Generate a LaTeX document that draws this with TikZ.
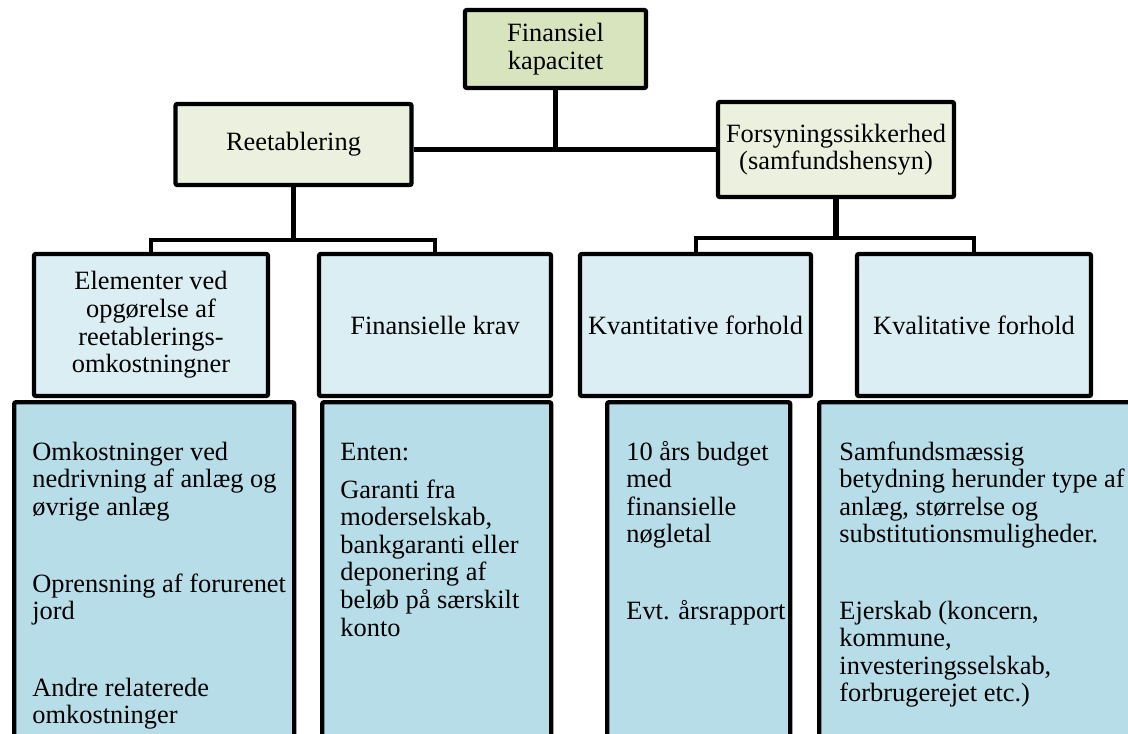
\documentclass[tikz,border=0pt]{standalone}
\usepackage{fontspec}
\setmainfont{Liberation Serif}
\definecolor{topgreen}{HTML}{D7E4BD}
\definecolor{palegreen}{HTML}{EBF1DE}
\definecolor{paleblue}{HTML}{DBEEF4}
\definecolor{midblue}{HTML}{B7DDE8}
\newcommand{\diagfont}{\fontsize{13.2pt}{13.8pt}\selectfont}
\newcommand{\txtlines}[1]{\begin{tabular}[t]{@{}l@{}}#1\end{tabular}}
\tikzset{
  box/.style={draw, line width=2.2pt, rounded corners=1pt, align=center,
    inner sep=0pt, font=\diagfont},
  headbox/.style={box, fill=palegreen, minimum width=118pt},
  subbox/.style={box, fill=paleblue, minimum height=71pt},
  contentbox/.style={draw, line width=2.2pt, rounded corners=1pt, fill=midblue,
    anchor=north west, minimum height=180pt, inner sep=0pt},
  trunk/.style={line width=2.8pt},
  bar/.style={line width=2pt},
  txt/.style={anchor=base west, inner sep=0pt, font=\diagfont}
}
\begin{document}
\begin{tikzpicture}[x=0.5pt, y=-0.5pt]
  \clip (0,0) rectangle (1128,733);

  % top level
  \node[box, fill=topgreen, minimum width=90.5pt, minimum height=39pt] (top) at (555.5,49) {Finansiel\\kapacitet};
  \node[headbox, minimum height=40.5pt] (reet) at (293.5,144.5) {Reetablering};
  \node[headbox, minimum height=47.5pt] (fors) at (836,149.5) {Forsyningssikkerhed\\(samfundshensyn)};

  \coordinate (lbar) at (0,240);
  \coordinate (rbar) at (0,238);

  % second level
  \node[subbox, minimum width=117pt] (elem) at (151,325) {Elementer ved\\opgørelse af\\reetablerings-\\omkostningner};
  \node[subbox, minimum width=116pt] (fkrav) at (435,325) {Finansielle krav};
  \node[subbox, minimum width=115.5pt] (kvant) at (695.5,325) {Kvantitative forhold};
  \node[subbox, minimum width=117pt] (kval) at (974,325) {Kvalitative forhold};

  % connectors
  \draw[trunk] (top.south) -- (top.south |- fors.west);
  \draw[trunk] (reet.east |- fors.west) -- (fors.west);
  \draw[trunk] (reet.south) -- (reet.south |- lbar);
  \draw[bar] (elem.north) -- (elem.north |- lbar) -- (fkrav.north |- lbar) -- (fkrav.north);
  \draw[trunk] (fors.south) -- (fors.south |- rbar);
  \draw[bar] (kvant.north) -- (kvant.north |- rbar) -- (kval.north |- rbar) -- (kval.north);

  % content boxes
  \node[contentbox, minimum width=140pt] (elembox) at (12,400) {};
  \node[contentbox, minimum width=114.5pt] (fkravbox) at (320,400) {};
  \node[contentbox, minimum width=91.5pt] (kvantbox) at (605,400) {};
  \node[contentbox, minimum width=176.5pt] (kvalbox) at (817,400) {};

  \node[txt] (omk) at (32,460) {\txtlines{Omkostninger ved\\nedrivning af anlæg og\\øvrige anlæg}};
  \node[txt] (opr) at (32,592) {\txtlines{Oprensning af forurenet\\jord}};
  \node[txt] (andre) at (32,696) {\txtlines{Andre relaterede\\omkostninger}};

  \node[txt] (enten) at (340,460) {Enten:};
  \node[txt] (garanti) at (340,498) {\txtlines{Garanti fra\\moderselskab,\\bankgaranti eller\\deponering af\\beløb på særskilt\\konto}};

  \node[txt] (budget) at (626,460) {\txtlines{10 års budget\\med\\finansielle\\nøgletal}};
  \node[txt] (evt) at (626,619) {Evt. årsrapport};

  \node[txt] (samf) at (839,460) {\txtlines{Samfundsmæssig\\betydning herunder type af\\anlæg, størrelse og\\substitutionsmuligheder.}};
  \node[txt] (ejer) at (839,619) {\txtlines{Ejerskab (koncern,\\kommune,\\investeringsselskab,\\forbrugerejet etc.)}};
\end{tikzpicture}
\end{document}
